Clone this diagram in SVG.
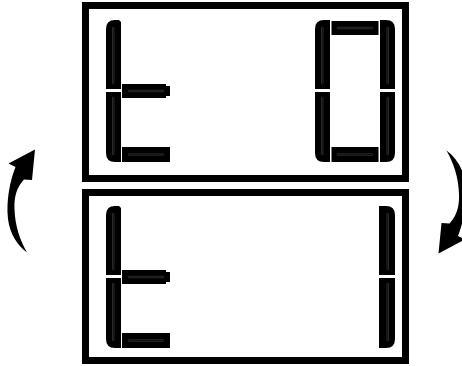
<svg xmlns="http://www.w3.org/2000/svg" xmlns:xlink="http://www.w3.org/1999/xlink" width="462" height="366" viewBox="0 0 462 366">
  <style>
    .frame { fill: #ffffff; stroke: #000000; stroke-width: 7; }
    .seg { fill: #000000; }
    .in { fill: none; stroke: #2a2a2a; stroke-width: 1; }
    .arrow { fill: #000000; }
  </style>
  <defs>
    <path id="arrowShape" class="arrow" d="M35,149.5 L8.5,163.5 L15.5,167 C10,181 6,200 8,219 C10,234 17,245 27,252.5 C20,240 15,226 14.5,209 C14,196 17,187 24,179.5 L32,180 Z"/>
    <g id="vUpL"><path class="seg" d="M106,89 V29 Q106,20 115,20 H119 L121,22 V89 Z"/><rect class="in" x="112.5" y="27" width="1.5" height="57" rx="0.75"/></g>
    <g id="vLowL"><path class="seg" d="M106,92 V153 Q106,162 115,162 H121 V92 Z"/><rect class="in" x="112.5" y="97" width="1.5" height="58" rx="0.75"/></g>
    <g id="hMid"><path class="seg" d="M122,84 H166 V86 H170 V96 H166 V98 H122 Z"/><rect class="in" x="128" y="90.25" width="36" height="1.5" rx="0.75"/></g>
    <g id="hBot"><path class="seg" d="M122,147 H170 V162 H122 Z"/><rect class="in" x="128" y="153.75" width="36" height="1.5" rx="0.75"/></g>
  </defs>

  <g id="arrow-left">
    <use xlink:href="#arrowShape" href="#arrowShape"/>
  </g>
  <g id="arrow-right">
    <use xlink:href="#arrowShape" href="#arrowShape" transform="rotate(180 236.75 201.5)"/>
  </g>

  <g id="display-t0">
    <rect class="frame" x="85.5" y="5.5" width="320" height="173"/>
    <g id="digit-t-top">
      <use xlink:href="#vUpL" href="#vUpL"/>
      <use xlink:href="#vLowL" href="#vLowL"/>
      <use xlink:href="#hMid" href="#hMid"/>
      <use xlink:href="#hBot" href="#hBot"/>
    </g>
    <g id="digit-0">
      <path class="seg" d="M315,89 V29 Q315,20 324,20 H330 V89 Z"/><rect class="in" x="321.5" y="27" width="1.5" height="57" rx="0.75"/>
      <path class="seg" d="M315,92 V153 Q315,162 324,162 H330 V92 Z"/><rect class="in" x="321.5" y="97" width="1.5" height="58" rx="0.75"/>
      <path class="seg" d="M395,89 V29 Q395,20 386,20 H380 V89 Z"/><rect class="in" x="387" y="27" width="1.5" height="57" rx="0.75"/>
      <path class="seg" d="M395,92 V153 Q395,162 386,162 H380 V92 Z"/><rect class="in" x="387" y="97" width="1.5" height="58" rx="0.75"/>
      <path class="seg" d="M331.5,21 H378.5 V35 H331.5 Z"/><rect class="in" x="337" y="27.25" width="36" height="1.5" rx="0.75"/>
      <path class="seg" d="M331.5,147 H378.5 V162 H331.5 Z"/><rect class="in" x="337" y="153.75" width="36" height="1.5" rx="0.75"/>
    </g>
  </g>

  <g id="display-t1">
    <rect class="frame" x="85.5" y="192.5" width="320" height="168"/>
    <g id="digit-t-bottom" transform="translate(0,186)">
      <use xlink:href="#vUpL" href="#vUpL"/>
      <use xlink:href="#vLowL" href="#vLowL"/>
      <use xlink:href="#hMid" href="#hMid"/>
      <use xlink:href="#hBot" href="#hBot"/>
    </g>
    <g id="digit-1" transform="translate(0,186)">
      <path class="seg" d="M395,89 V29 Q395,20 386,20 H379 V89 Z"/><rect class="in" x="387" y="27" width="1.5" height="57" rx="0.75"/>
      <path class="seg" d="M395,92 V153 Q395,162 386,162 H379 V92 Z"/><rect class="in" x="387" y="97" width="1.5" height="58" rx="0.75"/>
    </g>
  </g>
</svg>
